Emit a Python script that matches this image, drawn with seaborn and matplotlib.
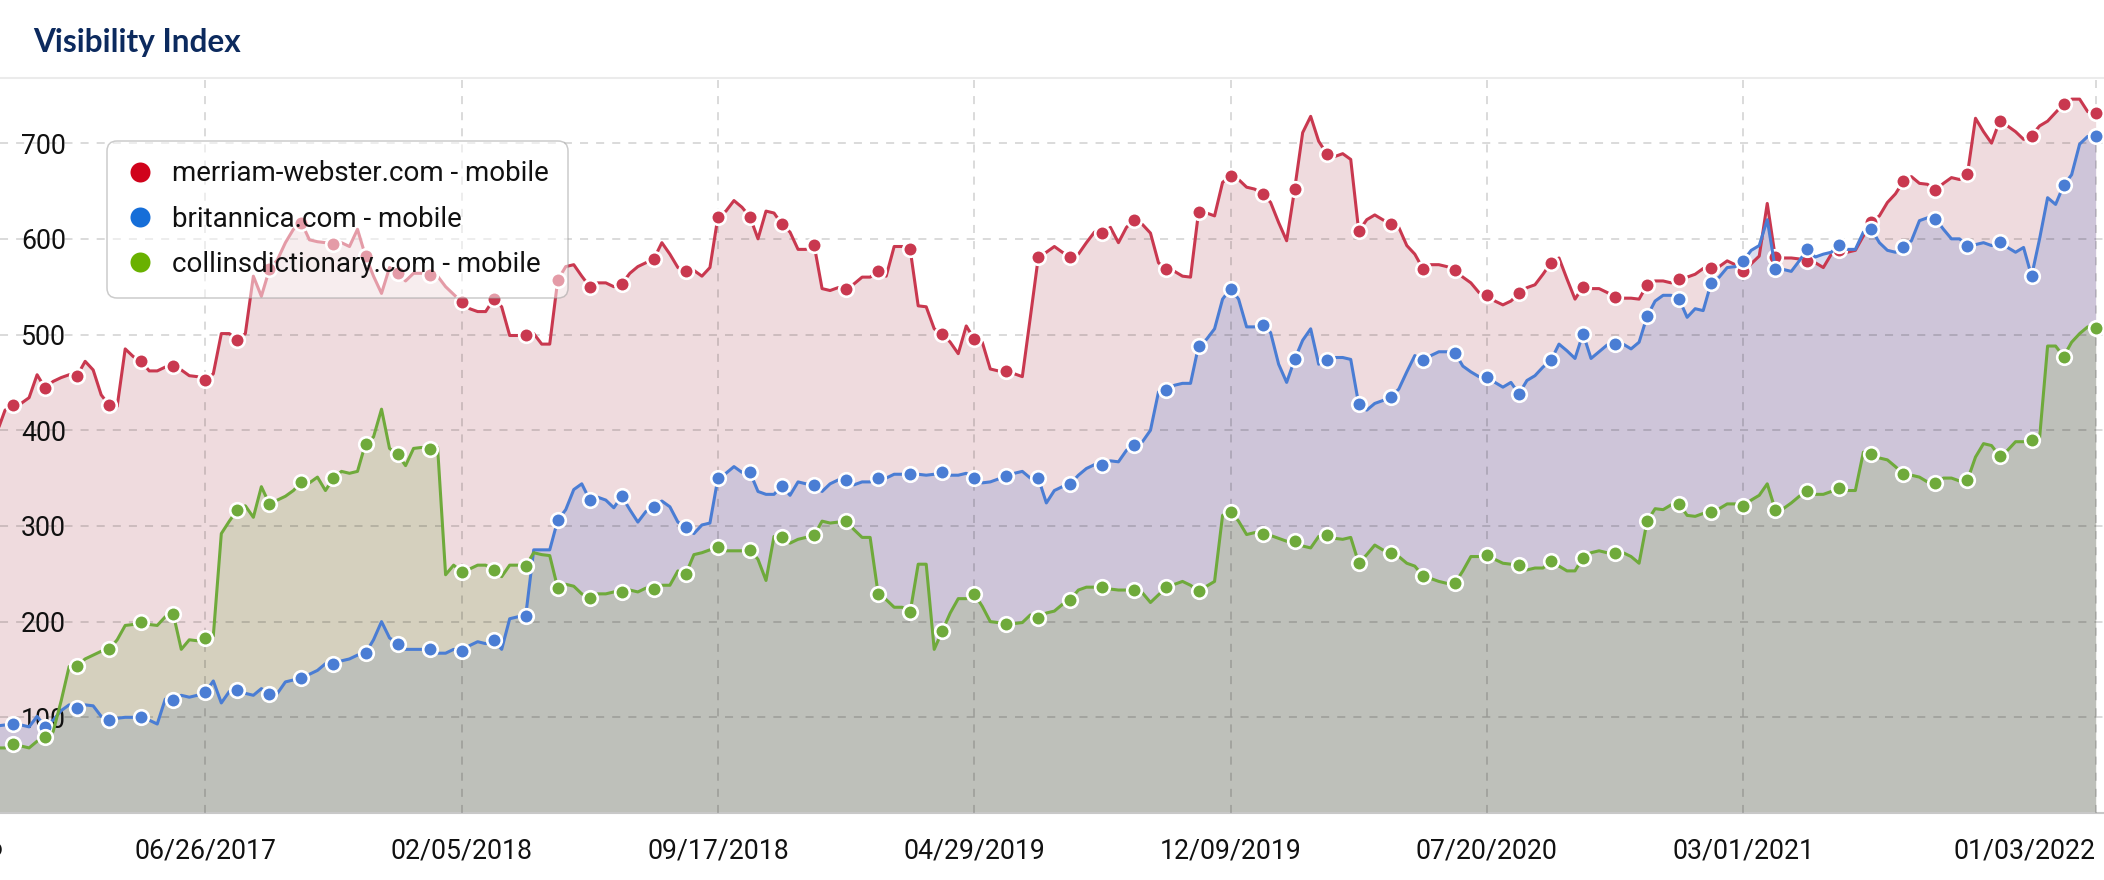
import matplotlib
matplotlib.use("Agg")
import matplotlib.pyplot as plt
from matplotlib.lines import Line2D
import pandas as pd
import seaborn as sns

# weekly visibility index, 12/26/2016 .. 01/03/2022 (one row = 4 weeks, 3rd value carries the marker)
weeks = pd.date_range("2016-12-26", periods=263, freq="7D")

merriam = [
    398, 421, 426, 428, 434, 458, 444, 451, 455, 458, 457, 472, 463, 437, 426, 425,
    485, 477, 472, 462, 462, 466, 467, 463, 457, 456, 452, 459, 501, 501, 494, 501,
    561, 540, 568, 578, 596, 610, 617, 599, 597, 596, 595, 596, 592, 610, 582, 561,
    543, 570, 564, 556, 564, 564, 562, 561, 550, 542, 534, 527, 524, 524, 537, 529,
    499, 499, 499, 501, 490, 490, 557, 571, 573, 561, 550, 554, 554, 550, 553, 564,
    571, 575, 579, 596, 584, 570, 566, 567, 561, 570, 623, 629, 640, 633, 623, 600,
    629, 627, 615, 607, 589, 589, 594, 548, 546, 549, 548, 553, 560, 560, 566, 561,
    592, 592, 589, 530, 529, 506, 501, 492, 480, 509, 495, 492, 464, 462, 462, 459,
    456, 518, 581, 586, 592, 586, 581, 584, 596, 607, 606, 612, 596, 612, 620, 615,
    606, 575, 568, 566, 561, 560, 628, 627, 624, 659, 666, 662, 654, 652, 647, 638,
    617, 598, 652, 711, 728, 702, 689, 686, 689, 683, 608, 620, 625, 620, 615, 612,
    593, 584, 569, 573, 573, 571, 567, 560, 554, 544, 541, 535, 531, 535, 543, 549,
    552, 563, 575, 580, 558, 537, 550, 548, 548, 544, 539, 538, 538, 537, 552, 556,
    556, 554, 558, 560, 563, 569, 570, 571, 577, 573, 566, 574, 582, 637, 581, 580,
    580, 579, 577, 575, 570, 584, 588, 586, 588, 603, 618, 624, 638, 647, 660, 665,
    658, 657, 651, 658, 664, 662, 668, 726, 712, 700, 723, 718, 712, 704, 708, 718,
    723, 732, 741, 746, 746, 733, 732,
]

britannica = [
    91, 92, 93, 92, 90, 101, 90, 97, 107, 113, 110, 113, 112, 101, 97, 99,
    100, 100, 100, 97, 93, 119, 118, 123, 121, 123, 126, 138, 115, 127, 129, 125,
    123, 130, 124, 125, 137, 139, 141, 145, 149, 156, 156, 159, 161, 165, 167, 181,
    200, 183, 177, 171, 171, 171, 171, 167, 167, 171, 169, 175, 179, 177, 181, 171,
    203, 205, 206, 275, 275, 275, 306, 317, 338, 344, 327, 330, 327, 319, 331, 317,
    304, 315, 320, 326, 320, 304, 299, 292, 301, 303, 350, 355, 362, 356, 356, 336,
    333, 333, 342, 332, 346, 344, 343, 336, 344, 348, 348, 343, 346, 346, 350, 350,
    354, 354, 354, 354, 353, 354, 356, 353, 353, 355, 350, 345, 346, 349, 352, 355,
    357, 350, 350, 324, 337, 341, 344, 353, 360, 364, 364, 368, 367, 379, 385, 388,
    400, 440, 442, 447, 449, 449, 488, 495, 506, 537, 548, 537, 508, 508, 510, 502,
    469, 450, 474, 494, 506, 469, 473, 476, 476, 474, 427, 421, 428, 431, 435, 443,
    461, 478, 473, 478, 482, 482, 481, 467, 461, 456, 456, 450, 445, 450, 438, 452,
    457, 466, 473, 490, 483, 475, 501, 475, 482, 489, 490, 490, 485, 492, 519, 535,
    541, 541, 537, 518, 527, 525, 554, 560, 570, 571, 577, 588, 593, 620, 569, 568,
    566, 577, 589, 581, 584, 586, 594, 589, 589, 607, 610, 596, 588, 586, 592, 598,
    619, 622, 621, 610, 600, 600, 593, 594, 596, 593, 597, 591, 586, 591, 561, 600,
    643, 636, 656, 667, 699, 707, 707,
]

collins = [
    68, 68, 72, 70, 68, 75, 79, 85, 117, 153, 154, 161, 165, 169, 171, 181,
    196, 197, 200, 197, 196, 205, 208, 171, 181, 180, 183, 185, 292, 305, 317, 321,
    309, 341, 323, 327, 331, 337, 346, 345, 351, 337, 350, 357, 355, 357, 386, 393,
    422, 381, 375, 363, 381, 382, 380, 382, 249, 259, 252, 255, 259, 259, 254, 247,
    259, 259, 258, 272, 270, 269, 235, 239, 237, 229, 225, 229, 229, 231, 231, 233,
    231, 235, 234, 238, 238, 253, 250, 270, 272, 275, 278, 274, 274, 274, 275, 265,
    243, 289, 288, 282, 286, 288, 290, 305, 303, 304, 305, 296, 288, 288, 229, 223,
    215, 215, 210, 260, 260, 171, 190, 209, 224, 224, 229, 216, 200, 199, 198, 198,
    199, 207, 204, 209, 211, 218, 223, 233, 236, 236, 236, 234, 233, 233, 233, 230,
    220, 228, 236, 239, 242, 238, 232, 237, 242, 311, 315, 305, 291, 293, 292, 290,
    287, 284, 284, 279, 277, 289, 290, 287, 286, 288, 261, 270, 280, 275, 272, 268,
    261, 258, 248, 245, 242, 240, 240, 253, 268, 268, 270, 265, 261, 260, 259, 254,
    256, 256, 263, 258, 253, 253, 267, 272, 274, 272, 272, 272, 268, 261, 305, 318,
    317, 322, 323, 311, 310, 313, 315, 318, 323, 323, 321, 327, 332, 344, 317, 318,
    324, 331, 336, 333, 333, 336, 340, 337, 337, 377, 375, 371, 369, 362, 354, 353,
    351, 346, 345, 350, 350, 347, 348, 372, 386, 384, 373, 379, 388, 388, 390, 392,
    488, 488, 477, 492, 501, 508, 507,
]

series_names = [
    "merriam-webster.com - mobile",
    "britannica.com - mobile",
    "collinsdictionary.com - mobile",
]
line_colors = ["#c9384f", "#4a7dd4", "#6faa3b"]
fill_colors = ["#cd8a94", "#8293ce", "#99b774"]
legend_colors = ["#d0021b", "#166ed8", "#69b100"]

tick_dates = ["2017-06-26", "2018-02-05", "2018-09-17", "2019-04-29",
              "2019-12-09", "2020-07-20", "2021-03-01", "2022-01-03"]
tick_labels = ["06/26/2017", "02/05/2018", "09/17/2018", "04/29/2019",
               "12/09/2019", "07/20/2020", "03/01/2021", "01/03/2022"]
y_ticks = [100, 200, 300, 400, 500, 600, 700]

sns.set_theme(style="white")
plt.rcParams["font.family"] = ["Roboto", "DejaVu Sans"]

W, H = 2104, 880
fig = plt.figure(figsize=(W / 100, H / 100), dpi=100)
fig.patch.set_facecolor("white")
ax = fig.add_axes([0, 1 - 813 / H, 1, (813 - 80) / H])
ax.set_facecolor("none")

all_series = [merriam, britannica, collins]

# stacked translucent areas first, lines on top
for vals, fc in zip(all_series, fill_colors):
    ax.fill_between(weeks, vals, 0, color=fc, alpha=0.3, lw=0, zorder=1)

for vals, lc in zip(all_series, line_colors):
    sns.lineplot(x=weeks, y=vals, ax=ax, color=lc, lw=2.2, marker="o",
                 markevery=slice(2, None, 4), markersize=10.5,
                 markeredgecolor="white", markeredgewidth=1.9,
                 zorder=3, legend=False)

ax.set_xlim(pd.Timestamp("2016-12-28 14:00"), pd.Timestamp("2022-01-10 07:00"))
ax.set_ylim(0, 766)
ax.set_xlabel("")
ax.set_ylabel("")

ax.set_xticks(pd.to_datetime(tick_dates))
ax.set_xticklabels(tick_labels)
ax.get_xticklabels()[-1].set_horizontalalignment("right")
ax.set_yticks(y_ticks)
ax.set_yticklabels([str(v) for v in y_ticks], ha="left")

ax.tick_params(axis="x", length=0, pad=17.8, labelsize=19.2, labelcolor="#111111")
ax.tick_params(axis="y", length=0, pad=-15.1, labelsize=19.2, labelcolor="#111111")

ax.set_axisbelow(False)
ax.grid(True, color="black", alpha=0.14, lw=1.45, ls=(0, (4, 4)))

for side in ["top", "right", "left"]:
    ax.spines[side].set_visible(False)
ax.spines["bottom"].set_color("#c8c8c8")
ax.spines["bottom"].set_linewidth(1.5)

# label of the tick just left of the visible range, clipped by the card edge
fig.text(4 / W, 1 - 848 / H, "11/14/2016", ha="right", va="center",
         fontsize=19.2, color="#111111")

# header
fig.text(33 / W, 1 - 52 / H, "Visibility Index", family="Lato", weight="bold",
         fontsize=22.7, color="#0c2a5e", va="baseline")
fig.add_artist(Line2D([0, 1], [1 - 78 / H, 1 - 78 / H], transform=fig.transFigure,
                      color="#ebebeb", lw=1.5))

handles = [Line2D([], [], ls="", marker="o", ms=14.4, mew=0, color=c)
           for c in legend_colors]
leg = ax.legend(handles, series_names, loc="upper left",
                bbox_to_anchor=(107 / W, 1 - 141 / H), bbox_transform=fig.transFigure,
                fontsize=20, frameon=True, fancybox=True, framealpha=0.5,
                facecolor="white", edgecolor="#999999", borderpad=0.7,
                handlelength=0.96, handletextpad=0.67, labelspacing=0.66,
                borderaxespad=0, labelcolor="#111111")
leg.get_frame().set_linewidth(1.1)
leg.get_frame().set_boxstyle("round", pad=0, rounding_size=0.36)
leg.set_zorder(10)

fig.savefig("out.png", dpi=100, facecolor="white")
